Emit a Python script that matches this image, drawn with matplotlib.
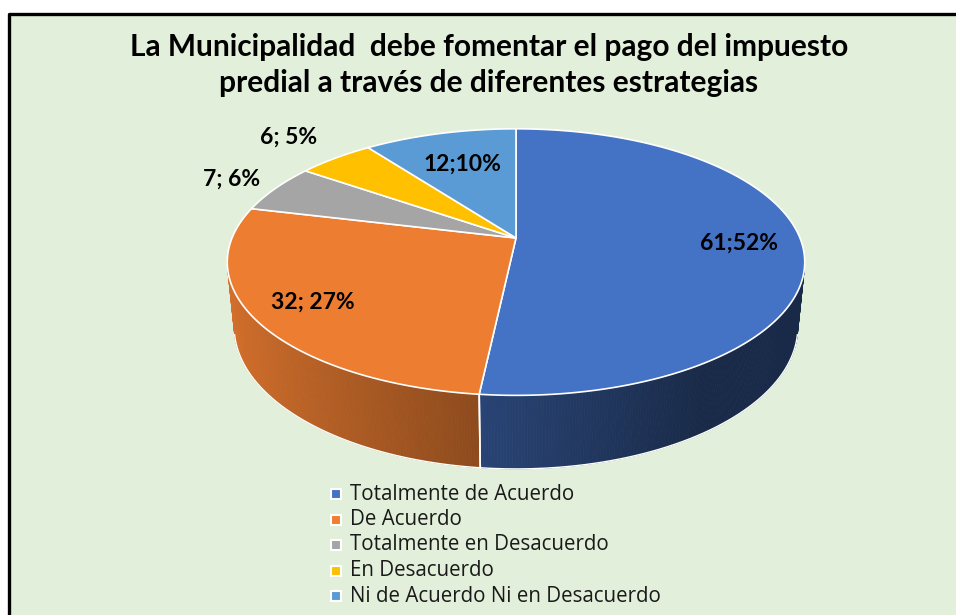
import numpy as np
import matplotlib.pyplot as plt
from matplotlib.patches import Polygon, Rectangle

# datos del gráfico
categorias = ['Totalmente de Acuerdo', 'De Acuerdo', 'Totalmente en Desacuerdo',
              'En Desacuerdo', 'Ni de Acuerdo Ni en Desacuerdo']
valores = [61, 32, 7, 6, 12]
etiquetas = ['61;52%', '32; 27%', '7; 6%', '6; 5%', '12;10%']
colores = ['#4472C4', '#ED7D31', '#A5A5A5', '#FFC000', '#5B9BD5']
titulo = 'La Municipalidad  debe fomentar el pago del impuesto\npredial a través de diferentes estrategias'

# radio relativo de cada etiqueta
radio_etiqueta = [0.78, 0.8, 1.2, 1.3, 0.67]

# parámetros de la proyección 3D (perspectiva)
alpha = np.radians(27)
D = 4.93
F = 1400
h = 0.26
cx, cy = 516, 238
sa, ca = np.sin(alpha), np.cos(alpha)


def proyectar(X, Z, Y=0.0):
    # punto del disco (X, Y, Z) -> coordenadas de pantalla
    py = Y - D * sa
    pz = Z + D * ca
    z = -py * sa + pz * ca
    yc = py * ca + pz * sa
    return cx + F * X / z, cy - F * yc / z


def borde(t1, t2, Y=0.0, r=1.0, n=200):
    th = np.linspace(t1, t2, n)
    return proyectar(r * np.sin(th), r * np.cos(th), Y)


def oscurecer(color, f):
    c = np.array(plt.matplotlib.colors.to_rgb(color))
    return tuple(np.clip(c * f, 0, 1))


fig = plt.figure(figsize=(9.56, 6.15), dpi=100)
fig.patch.set_facecolor('white')
ax = fig.add_axes([0, 0, 1, 1])
ax.set_xlim(0, 956)
ax.set_ylim(615, 0)
ax.axis('off')

ax.add_patch(Rectangle((9, 14), 960, 620, facecolor='#E2EFDA', edgecolor='none', zorder=0))
ax.plot([9, 9, 960], [620, 14, 14], color='black', lw=2.4, zorder=10, solid_capstyle='butt')

total = sum(valores)
angulos = np.concatenate([[0], np.cumsum(valores) / total * 2 * np.pi])

# paredes laterales (solo la parte visible de adelante)
vis_ini = np.arccos(-1 / (D * ca))
vis_fin = 2 * np.pi - vis_ini
for i, col in enumerate(colores):
    a1 = max(angulos[i], vis_ini)
    a2 = min(angulos[i + 1], vis_fin)
    if a2 <= a1:
        continue
    th = np.linspace(a1, a2, max(int(np.degrees(a2 - a1) * 2), 2))
    for t1, t2 in zip(th[:-1], th[1:]):
        xm = np.sin(0.5 * (t1 + t2))
        f = max(0.56 - 0.34 * xm, 0.37)
        xs1, ys1 = proyectar(np.sin(t1), np.cos(t1))
        xs2, ys2 = proyectar(np.sin(t2), np.cos(t2))
        xb1, yb1 = proyectar(np.sin(t1), np.cos(t1), -h)
        xb2, yb2 = proyectar(np.sin(t2), np.cos(t2), -h)
        c = oscurecer(col, f)
        ax.add_patch(Polygon([(xs1, ys1), (xs2, ys2), (xb2, yb2), (xb1, yb1)],
                             closed=True, facecolor=c, edgecolor=c, lw=0.6, zorder=2))
    # separación entre porciones en la pared
    for t in (angulos[i], angulos[i + 1]):
        if vis_ini < t < vis_fin:
            xa, ya = proyectar(np.sin(t), np.cos(t))
            xb, yb = proyectar(np.sin(t), np.cos(t), -h)
            ax.plot([xa, xb], [ya, yb], color='white', lw=1.2, zorder=3)

bx, by = borde(vis_ini, vis_fin, Y=-h)
ax.plot(bx, by, color='white', lw=1.0, zorder=3)

# caras superiores
for i, col in enumerate(colores):
    xs, ys = borde(angulos[i], angulos[i + 1])
    pts = [(cx, cy)] + list(zip(xs, ys))
    ax.add_patch(Polygon(pts, closed=True, facecolor=col, edgecolor='white', lw=1.2, zorder=4))

# etiquetas de datos
for i, txt in enumerate(etiquetas):
    tm = 0.5 * (angulos[i] + angulos[i + 1])
    r = radio_etiqueta[i]
    lx, ly = proyectar(r * np.sin(tm), r * np.cos(tm))
    ax.text(lx, ly, txt, ha='center', va='center', fontsize=16.5, fontweight='bold',
            family='Lato', color='black', zorder=6)

# título
ax.text(489, 65, titulo, ha='center', va='center', fontsize=21.5, fontweight='bold',
        family='Lato', color='black', linespacing=1.38, zorder=6)

# leyenda
for i, (cat, col) in enumerate(zip(categorias, colores)):
    yy = 494 + i * 25.5
    ax.plot(336, yy, marker='s', markersize=7.5, color=col, markeredgecolor='white',
            markeredgewidth=1.5, zorder=6)
    ax.text(350, yy, cat, ha='left', va='center', fontsize=14.8, family='Open Sans',
            color='#1a1a1a', zorder=6)

fig.savefig('out.png', dpi=100, facecolor=fig.get_facecolor())
